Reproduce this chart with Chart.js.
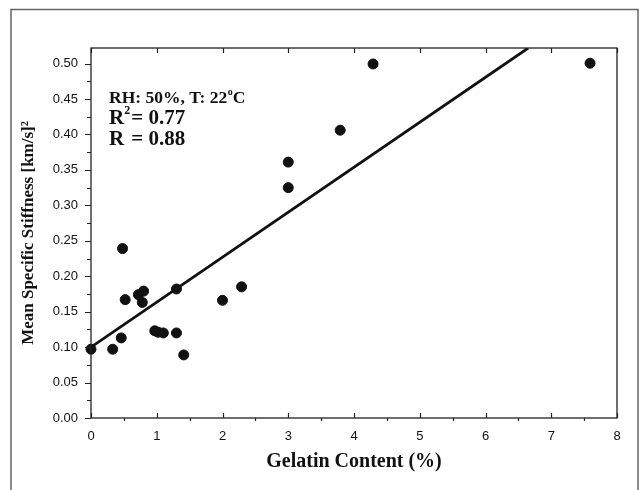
<!DOCTYPE html>
<html>
<head>
<meta charset="utf-8">
<script src="https://cdn.jsdelivr.net/npm/chart.js@4"></script>
<style>
  html, body { margin: 0; padding: 0; background: #fff; }
  #wrap { width: 643px; height: 490px; position: relative; }
</style>
</head>
<body>
<div id="wrap"><canvas id="c" width="643" height="490"></canvas></div>
<script>
// ---- data ----
const gelatinX = [0.00, 0.33, 0.46, 0.48, 0.52, 0.72, 0.78, 0.80, 0.97, 1.02, 1.10, 1.30, 1.30, 1.41, 2.00, 2.29, 3.00, 3.00, 3.79, 4.29, 7.59];
const stiffnessY = [0.097, 0.097, 0.113, 0.239, 0.167, 0.174, 0.163, 0.179, 0.123, 0.121, 0.120, 0.120, 0.182, 0.089, 0.166, 0.185, 0.361, 0.325, 0.406, 0.4995, 0.5005];
const fitX = [0, 6.65];
const fitY = [0.100, 0.522];
const xTickValues = [0, 1, 2, 3, 4, 5, 6, 7, 8];
const yTickLabels = ['0.00', '0.05', '0.10', '0.15', '0.20', '0.25', '0.30', '0.35', '0.40', '0.45', '0.50'];
const annotationLines = ['RH: 50%, T: 22', 'R', '= 0.77', 'R', '= 0.88'];

const points = gelatinX.map((x, i) => ({ x: x, y: stiffnessY[i] }));
const fitLine = fitX.map((x, i) => ({ x: x, y: fitY[i] }));

const decor = {
  id: 'decor',
  afterDraw(chart) {
    const ctx = chart.ctx;
    const a = chart.chartArea;
    const xs = chart.scales.x, ys = chart.scales.y;
    ctx.save();
    // outer frame
    ctx.strokeStyle = '#666';
    ctx.lineWidth = 1.5;
    ctx.strokeRect(11, 9.5, 627, 490);
    // plot box
    ctx.strokeStyle = '#222';
    ctx.lineWidth = 1.3;
    ctx.strokeRect(a.left, a.top, a.right - a.left, a.bottom - a.top);
    // x ticks
    ctx.lineWidth = 1.2;
    ctx.beginPath();
    for (let v = 0; v <= 8.001; v += 0.5) {
      const px = Math.round(xs.getPixelForValue(v)) + 0.5;
      if (Math.abs(v - Math.round(v)) < 1e-6) {
        ctx.moveTo(px, a.bottom); ctx.lineTo(px, a.bottom - 5);
        ctx.moveTo(px, a.top); ctx.lineTo(px, a.top + 5);
      } else {
        ctx.moveTo(px, a.bottom); ctx.lineTo(px, a.bottom + 3);
      }
    }
    // y ticks
    for (let i = 0; i <= 20; i++) {
      const py = Math.round(ys.getPixelForValue(i * 0.025)) + 0.5;
      ctx.moveTo(a.left, py); ctx.lineTo(a.left - (i % 2 === 0 ? 6 : 4), py);
    }
    ctx.stroke();

    // annotation text
    ctx.fillStyle = '#111';
    ctx.textBaseline = 'alphabetic';
    const x0 = a.left + 18;
    ctx.font = 'bold 17.5px "Liberation Serif"';
    ctx.fillText(annotationLines[0], x0, 103);
    let w = ctx.measureText(annotationLines[0]).width;
    ctx.font = 'bold 10px "Liberation Serif"';
    ctx.fillText('o', x0 + w + 0.5, 95);
    let w2 = ctx.measureText('o').width;
    ctx.font = 'bold 17.5px "Liberation Serif"';
    ctx.fillText('C', x0 + w + w2 + 0.5, 103);

    ctx.font = 'bold 21px "Liberation Serif"';
    ctx.fillText(annotationLines[1], x0, 124);
    const rw = ctx.measureText('R').width;
    ctx.font = 'bold 12px "Liberation Serif"';
    ctx.fillText('2', x0 + rw, 114);
    const sw = ctx.measureText('2').width;
    ctx.font = 'bold 21px "Liberation Serif"';
    const eqX = x0 + rw + sw + 1;
    ctx.fillText(annotationLines[2], eqX, 124);
    ctx.fillText(annotationLines[3], x0, 145);
    ctx.fillText(annotationLines[4], eqX, 145);
    ctx.restore();
  }
};

new Chart(document.getElementById('c'), {
  type: 'scatter',
  data: {
    datasets: [
      {
        type: 'scatter',
        data: points,
        backgroundColor: '#111',
        borderColor: '#111',
        pointRadius: 5,
        pointHoverRadius: 5,
        clip: false,
        order: 1
      },
      {
        type: 'line',
        data: fitLine,
        borderColor: '#111',
        borderWidth: 2.8,
        pointRadius: 0,
        fill: false,
        order: 2
      }
    ]
  },
  options: {
    responsive: false,
    animation: false,
    events: [],
    layout: { padding: { top: 48, right: 26, left: 0, bottom: 0 } },
    plugins: { legend: { display: false }, tooltip: { enabled: false } },
    scales: {
      x: {
        type: 'linear',
        min: 0, max: 8,
        afterFit(s) { s.height = 72; },
        afterBuildTicks(s) { s.ticks = xTickValues.map(v => ({ value: v })); },
        grid: { display: false },
        border: { display: false },
        ticks: {
          color: '#111',
          font: { family: '"Liberation Sans"', size: 13 },
          padding: 3,
          autoSkip: false,
          maxRotation: 0,
          callback: (v) => String(v)
        },
        title: {
          display: true,
          text: 'Gelatin Content (%)',
          color: '#111',
          font: { family: '"Liberation Serif"', size: 20, weight: 'bold' },
          padding: { top: 0, bottom: 16 }
        }
      },
      y: {
        type: 'linear',
        min: 0, max: 0.522,
        afterFit(s) { s.width = 91; },
        afterBuildTicks(s) { s.ticks = yTickLabels.map(t => ({ value: parseFloat(t) })); },
        grid: { display: false },
        border: { display: false },
        ticks: {
          color: '#111',
          font: { family: '"Liberation Sans"', size: 13 },
          padding: 5,
          autoSkip: false,
          callback: (v, i) => yTickLabels[i]
        },
        title: {
          display: true,
          text: 'Mean Specific Stiffness [km/s]²',
          color: '#111',
          font: { family: '"Liberation Serif"', size: 17, weight: 'bold' },
          padding: { top: 18, bottom: 0 }
        }
      }
    }
  },
  plugins: [decor]
});
</script>
</body>
</html>
